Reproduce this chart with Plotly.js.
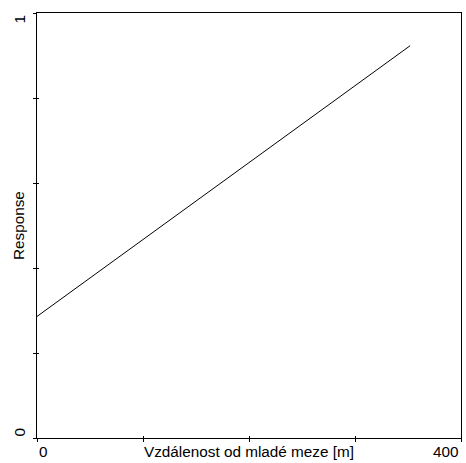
<!DOCTYPE html>
<html><head><meta charset="utf-8">
<script src="https://cdn.plot.ly/plotly-3.0.1.min.js"></script>
<style>body{margin:0;background:#fff}#c{width:466px;height:463px}</style>
</head><body><div id="c"></div>
<script>
const distance = [0, 352];
const response = [0.286, 0.923];
const xTicks = [0, 100, 200, 300, 400];
const xTickLabels = ['0', '', '', '', '400'];
const yTicks = [0, 0.2, 0.4, 0.6, 0.8, 1];
const yTickLabels = ['0', '', '', '', '', '1'];
const xTitle = 'Vzdálenost od mladé meze [m]';
const yTitle = 'Response';

const font = {family: 'Liberation Sans, Arial, sans-serif', size: 15.3, color: '#000'};
const annotations = [];
xTicks.forEach((v, i) => {
  if (!xTickLabels[i]) return;
  annotations.push({x: v, y: 0, xref: 'x', yref: 'paper', text: xTickLabels[i], showarrow: false,
    xanchor: i === 0 ? 'left' : 'right', yanchor: 'top', yshift: -3, font: font});
});
yTicks.forEach((v, i) => {
  if (!yTickLabels[i]) return;
  annotations.push({x: 0, y: v, xref: 'paper', yref: 'y', text: yTickLabels[i], showarrow: false,
    textangle: -90, xanchor: 'right', yanchor: 'middle', xshift: -8, yshift: i === 0 ? 6 : -6, font: font});
});
annotations.push({x: 0.5, y: 0, xref: 'paper', yref: 'paper', text: xTitle, showarrow: false,
  xanchor: 'center', yanchor: 'top', yshift: -3, font: font});
annotations.push({x: 0, y: 0.5, xref: 'paper', yref: 'paper', text: yTitle, showarrow: false,
  textangle: -90, xanchor: 'right', yanchor: 'middle', xshift: -8, font: font});

const axBase = {range: [0, 400], tickvals: xTicks, showticklabels: false, showgrid: false, zeroline: false};
const ayBase = {range: [0, 1], tickvals: yTicks, showticklabels: false, showgrid: false, zeroline: false};

Plotly.newPlot('c', [
  {x: distance, y: response, type: 'scatter', mode: 'lines', line: {color: '#000', width: 1}, hoverinfo: 'none'},
  {x: [0], y: [0], xaxis: 'x2', yaxis: 'y2', mode: 'markers', marker: {opacity: 0}, hoverinfo: 'none'}
], {
  width: 466, height: 463,
  margin: {l: 37, r: 5, t: 13, b: 25},
  paper_bgcolor: '#fff', plot_bgcolor: '#fff',
  showlegend: false,
  font: font,
  xaxis: Object.assign({}, axBase, {showline: true, linecolor: '#000', linewidth: 1, mirror: true,
    ticks: 'outside', ticklen: 3, tickcolor: '#000', tickwidth: 1}),
  yaxis: Object.assign({}, ayBase, {showline: true, linecolor: '#000', linewidth: 1, mirror: true,
    ticks: 'outside', ticklen: 3, tickcolor: '#000', tickwidth: 1}),
  xaxis2: Object.assign({}, axBase, {overlaying: 'x', anchor: 'y2', side: 'bottom', showline: false,
    ticks: 'inside', ticklen: 2, tickcolor: '#000', tickwidth: 1}),
  yaxis2: Object.assign({}, ayBase, {overlaying: 'y', anchor: 'x2', side: 'left', showline: false,
    ticks: 'inside', ticklen: 2, tickcolor: '#000', tickwidth: 1}),
  annotations: annotations
}, {staticPlot: true});
</script></body></html>
